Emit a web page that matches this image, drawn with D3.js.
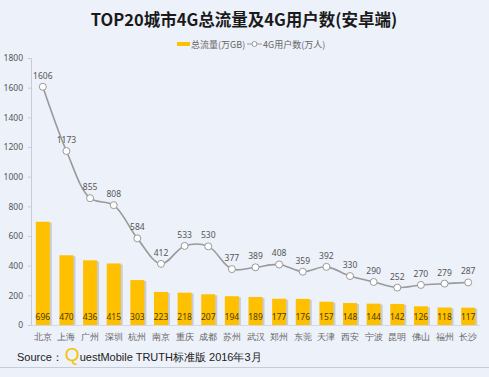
<!DOCTYPE html>
<html>
<head>
<meta charset="utf-8">
<script src="https://cdn.jsdelivr.net/npm/d3@7"></script>
<style>
  body { margin: 0; background: #edf1fa; }
  svg { display: block; font-family: "Noto Sans CJK SC", "Noto Sans", sans-serif; }
</style>
</head>
<body>
<div id="chart"></div>
<script>
// City names (x categories)
const cityList = ["北京", "上海", "广州", "深圳", "杭州", "南京", "重庆", "成都", "苏州", "武汉",
  "郑州", "东莞", "天津", "西安", "宁波", "昆明", "佛山", "福州", "长沙"];

// Total traffic (万GB)
const traffic = [696, 470, 436, 415, 303, 223, 218, 207, 194, 189, 177, 176, 157, 148, 144, 142, 126, 118, 117];

// 4G users (万人)
const users = [1606, 1173, 855, 808, 584, 412, 533, 530, 377, 389, 408, 359, 392, 330, 290, 252, 270, 279, 287];

const yTicks = [0, 200, 400, 600, 800, 1000, 1200, 1400, 1600, 1800];

const W = 489, H = 377;
const margin = { top: 58, right: 9, bottom: 52, left: 31 };

const svg = d3.select("#chart").append("svg")
  .attr("width", W)
  .attr("height", H);

svg.append("rect").attr("width", W).attr("height", H).attr("fill", "#edf1fa");

// Title
svg.append("text")
  .attr("x", 244)
  .attr("y", 26)
  .attr("text-anchor", "middle")
  .attr("font-size", 16.5)
  .attr("font-weight", "bold")
  .attr("fill", "#1a1a1a")
  .text("TOP20城市4G总流量及4G用户数(安卓端)");

// Legend
const legend = svg.append("g");
legend.append("rect").attr("x", 177).attr("y", 42).attr("width", 13).attr("height", 4).attr("fill", "#ffc000");
legend.append("text").attr("x", 191).attr("y", 47.5).attr("font-size", 9).attr("fill", "#666").text("总流量(万GB)");
legend.append("line").attr("x1", 247).attr("x2", 262).attr("y1", 44).attr("y2", 44).attr("stroke", "#999").attr("stroke-width", 1);
legend.append("circle").attr("cx", 254.5).attr("cy", 44).attr("r", 2.5).attr("fill", "#fff").attr("stroke", "#999");
legend.append("text").attr("x", 263).attr("y", 47.5).attr("font-size", 9).attr("fill", "#666").text("4G用户数(万人)");

// Scales
const x = d3.scaleBand()
  .domain(cityList)
  .range([margin.left, W - margin.right])
  .paddingInner(0.36)
  .paddingOuter(0.18);

const y = d3.scaleLinear()
  .domain([0, 1800])
  .range([H - margin.bottom, margin.top]);

// Y axis
const yAxis = svg.append("g")
  .attr("transform", `translate(${margin.left},0)`)
  .call(d3.axisLeft(y).tickValues(yTicks).tickFormat(d3.format("d")).tickSize(3).tickPadding(5));
yAxis.select(".domain").attr("stroke", "#c8ccd4");
yAxis.selectAll(".tick line").attr("stroke", "#c8ccd4");
yAxis.selectAll("text").attr("font-size", 8.5).attr("fill", "#555").attr("font-family", "Noto Sans, sans-serif");

// X axis
const xAxis = svg.append("g")
  .attr("transform", `translate(0,${y(0)})`)
  .call(d3.axisBottom(x).tickSize(0).tickPadding(9));
xAxis.select(".domain").attr("stroke", "#d4d8e0");
xAxis.selectAll("text").attr("font-size", 9).attr("fill", "#666");

// Bars with shadow
const barW = 14;
svg.selectAll(".bar-shadow")
  .data(traffic)
  .enter()
  .append("rect")
  .attr("class", "bar-shadow")
  .attr("x", (d, i) => x(cityList[i]) + x.bandwidth() / 2 - barW / 2 + 2)
  .attr("y", d => y(d) + 1)
  .attr("width", barW)
  .attr("height", d => y(0) - y(d) - 1)
  .attr("fill", "#b8bcc4")
  .attr("opacity", 0.7);

svg.selectAll(".bar")
  .data(traffic)
  .enter()
  .append("rect")
  .attr("class", "bar")
  .attr("x", (d, i) => x(cityList[i]) + x.bandwidth() / 2 - barW / 2)
  .attr("y", d => y(d))
  .attr("width", barW)
  .attr("height", d => y(0) - y(d))
  .attr("fill", "#ffc000");

svg.selectAll(".bar-label")
  .data(traffic)
  .enter()
  .append("text")
  .attr("class", "bar-label")
  .attr("x", (d, i) => x(cityList[i]) + x.bandwidth() / 2)
  .attr("y", y(0) - 5)
  .attr("text-anchor", "middle")
  .attr("font-size", 8.5)
  .attr("font-family", "Noto Sans, sans-serif")
  .attr("fill", "#4a3c00")
  .text(d => d);

// Users line
const cx = i => x(cityList[i]) + x.bandwidth() / 2;
const line = d3.line()
  .x((d, i) => cx(i))
  .y(d => y(d))
  .curve(d3.curveCatmullRom.alpha(0.5));

svg.append("path")
  .datum(users)
  .attr("fill", "none")
  .attr("stroke", "#9a9a9a")
  .attr("stroke-width", 1.6)
  .attr("d", line);

svg.selectAll(".pt")
  .data(users)
  .enter()
  .append("circle")
  .attr("class", "pt")
  .attr("cx", (d, i) => cx(i))
  .attr("cy", d => y(d))
  .attr("r", 3.5)
  .attr("fill", "#fff")
  .attr("stroke", "#9a9a9a")
  .attr("stroke-width", 1);

svg.selectAll(".pt-label")
  .data(users)
  .enter()
  .append("text")
  .attr("class", "pt-label")
  .attr("x", (d, i) => cx(i))
  .attr("y", d => y(d) - 8)
  .attr("text-anchor", "middle")
  .attr("font-size", 8.5)
  .attr("font-family", "Noto Sans, sans-serif")
  .attr("fill", "#555")
  .text(d => d);

// Source line
const src = svg.append("text")
  .attr("x", 17)
  .attr("y", 361)
  .attr("font-size", 11)
  .attr("font-family", "Liberation Sans, Arial, sans-serif")
  .attr("fill", "#222");
src.append("tspan").text("Source：");
src.append("tspan").attr("font-size", 19).attr("fill", "#f5c400").attr("dx", 2).text("Q");
src.append("tspan").text("uestMobile TRUTH标准版 2016年3月");

// Bottom rule
svg.append("line")
  .attr("x1", 0).attr("x2", W)
  .attr("y1", 367.5).attr("y2", 367.5)
  .attr("stroke", "#c8ccd4")
  .attr("stroke-width", 1);
</script>
</body>
</html>
